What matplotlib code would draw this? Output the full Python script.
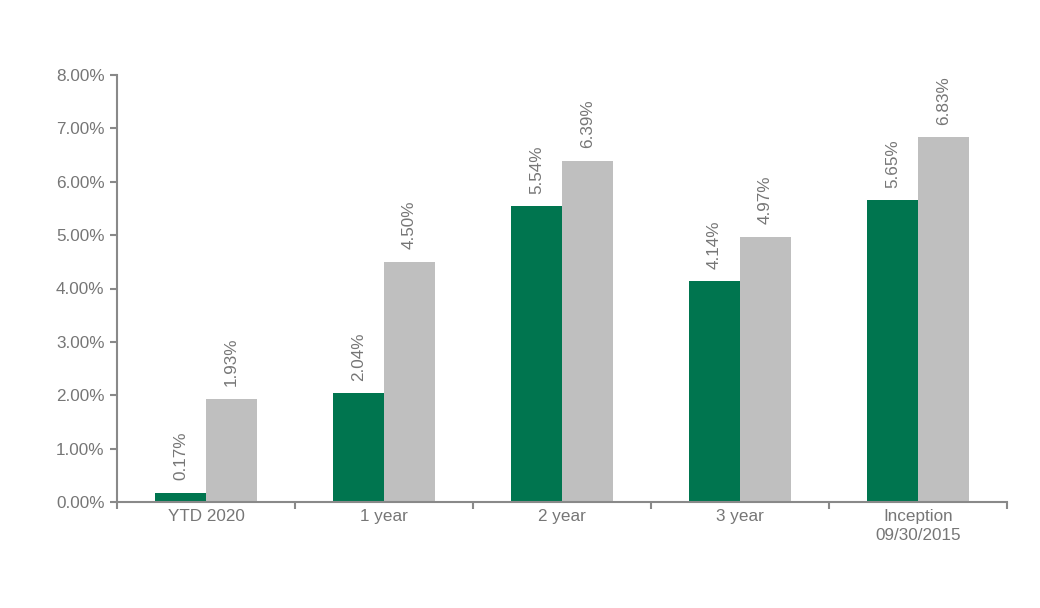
import matplotlib
matplotlib.use("Agg")
import matplotlib.pyplot as plt
import numpy as np

categories = ["YTD 2020", "1 year", "2 year", "3 year", "Inception\n09/30/2015"]
fund = [0.17, 2.04, 5.54, 4.14, 5.65]
benchmark = [1.93, 4.50, 6.39, 4.97, 6.83]
yticks = [0, 1, 2, 3, 4, 5, 6, 7, 8]

plt.rcParams['font.family'] = ['Liberation Sans', 'DejaVu Sans']
txt = '#767676'
spine = '#898989'
green = '#00754F'
grey = '#BFBFBF'
fs = 12.3

fig = plt.figure(figsize=(10.4, 6.08), dpi=100)
ax = fig.add_axes([117/1040, 1 - 502/608, (1007-117)/1040, (502-75)/608])

x = np.arange(len(categories))
w = 0.287
b1 = ax.bar(x - w/2, fund, w, color=green)
b2 = ax.bar(x + w/2, benchmark, w, color=grey)

for bars, vals in ((b1, fund), (b2, benchmark)):
    for r, v in zip(bars, vals):
        ax.annotate(f"{v:.2f}%", (r.get_x() + r.get_width()/2, v),
                    xytext=(0, 9), textcoords='offset points',
                    rotation=90, ha='center', va='bottom',
                    fontsize=fs, color=txt)

ax.set_xlim(-0.5, len(categories) - 0.5)
ax.set_ylim(0, 8)
ax.set_yticks(yticks)
ax.set_yticklabels([f"{t:.2f}%" for t in yticks], fontsize=fs, color=txt)
ax.set_xticks(x)
ax.set_xticklabels(categories, fontsize=fs, color=txt, linespacing=1.3)
ax.set_xticks(np.arange(len(categories) + 1) - 0.5, minor=True)
ax.tick_params(axis='x', which='major', length=0, pad=5)
ax.tick_params(axis='x', which='minor', length=5, color=spine, width=1.5, direction='out')
ax.tick_params(axis='y', length=5, color=spine, width=1.5, pad=4)

for s in ('top', 'right'):
    ax.spines[s].set_visible(False)
for s in ('left', 'bottom'):
    ax.spines[s].set_color(spine)
    ax.spines[s].set_linewidth(1.5)

fig.savefig("out.png", dpi=100)
